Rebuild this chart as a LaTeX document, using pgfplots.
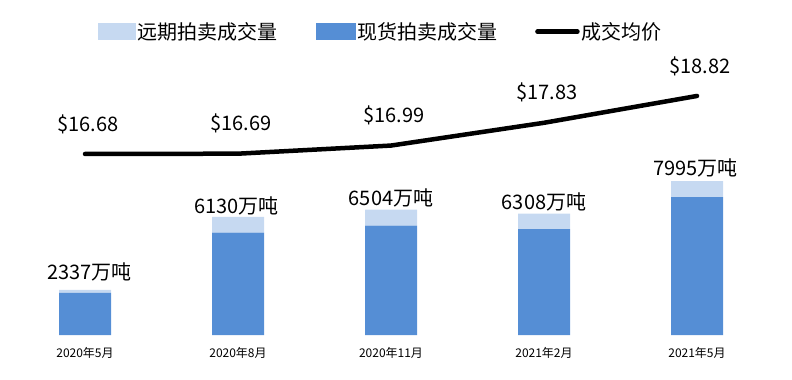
\documentclass[border=0pt]{standalone}
\usepackage{fontspec}
\setmainfont{Noto Sans CJK SC}
\usepackage{pgfplots}
\pgfplotsset{compat=1.18}
\definecolor{spot}{HTML}{558ED5}
\definecolor{fwd}{HTML}{C6D9F1}
\pgfplotsset{base/.style={
  at={(0,0)}, anchor=south west, scale only axis,
  width=765bp, height=288.9bp, xmin=-0.5, xmax=4.5,
  axis line style={draw=none}, tick style={draw=none},
  ytick=\empty, clip=false}}
\begin{document}
\begin{tikzpicture}
\path[use as bounding box] (-8.5bp,-45bp) rectangle (783.5bp,335bp);
% bars
\begin{axis}[base, ybar stacked, bar width=52bp, ymin=0, ymax=15000,
  xtick={0,1,2,3,4},
  xticklabels={2020年5月,2020年8月,2020年11月,2021年2月,2021年5月},
  xticklabel style={font=\fontsize{12bp}{14bp}\selectfont, anchor=center, yshift=-18bp},
  legend columns=3,
  legend style={at={(0.487,1.050)}, anchor=center, draw=none, fill=none,
    font=\fontsize{20bp}{24bp}\selectfont, inner sep=0pt,
    nodes={inner xsep=2bp},
    /tikz/every even column/.append style={column sep=36bp}},
]
\addlegendimage{legend image code/.code={\fill[fwd] (0bp,-8bp) rectangle (37bp,8bp);}}
\addlegendentry{远期拍卖成交量}
\addlegendimage{legend image code/.code={\fill[spot] (0bp,-8bp) rectangle (39bp,8bp);}}
\addlegendentry{现货拍卖成交量}
\addlegendimage{legend image code/.code={\draw[black, line width=4.5bp, line cap=round] (0bp,0bp) -- (40bp,0bp);}}
\addlegendentry{成交均价}
% spot volume (bottom)
\addplot[fill=spot, draw=none, forget plot] coordinates {(0,2187) (1,5312) (2,5675) (3,5500) (4,7165)};
% forward volume (top)
\addplot[fill=fwd, draw=none, forget plot] coordinates {(0,150) (1,818) (2,829) (3,808) (4,830)};
\end{axis}
% volume labels
\begin{axis}[base, hide axis, ymin=0, ymax=15000]
\addplot[draw=none, nodes near coords, point meta=explicit symbolic,
  every node near coord/.append style={anchor=base, font=\fontsize{20bp}{24bp}\selectfont}]
  coordinates {(0.03,2856)[2337万吨] (0.99,6334)[6130万吨] (2,6698)[6504万吨] (3,6542)[6308万吨] (3.99,8307)[7995万吨]};
\end{axis}
% price line
\begin{axis}[base, hide axis, ymin=10, ymax=20.66]
\addplot[black, line width=4.5bp, line cap=round, line join=round, nodes near coords, point meta=explicit symbolic,
  every node near coord/.append style={anchor=center, xshift=3bp, yshift=30bp, font=\fontsize{20bp}{24bp}\selectfont}]
  coordinates {(0,16.68)[\$16.68] (1,16.69)[\$16.69] (2,16.99)[\$16.99] (3,17.83)[\$17.83] (4,18.82)[\$18.82]};
\end{axis}
\end{tikzpicture}
\end{document}
